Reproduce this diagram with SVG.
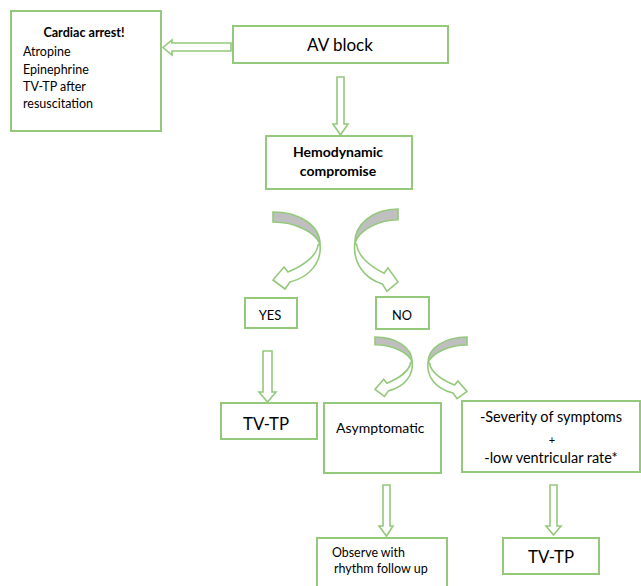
<svg xmlns="http://www.w3.org/2000/svg" width="641" height="586" viewBox="0 0 641 586">
<defs>
<style>
.box{fill:#fff;stroke:#94c97c;stroke-width:2}
.arr{fill:#fff;stroke:#94c97c;stroke-width:1.6;stroke-linejoin:miter}
.back{fill:#bfbfbf;stroke:#94c97c;stroke-width:1.6;vector-effect:non-scaling-stroke}
.front{fill:#fff;stroke:#94c97c;stroke-width:1.6;vector-effect:non-scaling-stroke}
text{font-family:Lato,"Open Sans","Liberation Sans",sans-serif;fill:#000}
.b{font-weight:bold}
.m{text-anchor:middle}
</style>
<g id="curved">
<path class="back" d="M0,0 C27,0 47,14 47,32 C42,20 22,10 0,10 Z"/>
<path class="front" d="M47,32 C49,50 37,65 17,70 L12,77 L0,68 L11,55 L15,60 C32,53 44,43 45,33 Z"/>
</g>
</defs>
<rect width="641" height="586" fill="#fff"/>
<g id="connectors">
<polygon class="arr" points="231,43 172,43 172,40 163,47.5 172,55 172,51 231,51"/>
<polygon class="arr" points="337,77 344,77 344,124 348,124 340.5,135 333,124 337,124"/>
<polygon class="arr" points="263,351 272,351 272,392 276,392 267.5,402 259,392 263,392"/>
<polygon class="arr" points="383,485 390,485 390,526 393,526 386.5,536 379,526 383,526"/>
<polygon class="arr" points="550,485 557,485 557,526 561,526 553.5,535 546,526 550,526"/>
<use href="#curved" transform="translate(273,212)"/>
<use href="#curved" transform="translate(398,209) scale(-0.92,1.07)"/>
<use href="#curved" transform="translate(375,337) scale(0.79,0.77)"/>
<use href="#curved" transform="translate(467,337) scale(-0.83,0.8)"/>
</g>
<g id="cardiac">
<rect class="box" x="11" y="11" width="150" height="120"/>
<text class="b m" x="84" y="37" font-size="12.6">Cardiac arrest!</text>
<text x="23" y="56" font-size="12.5">Atropine</text>
<text x="23" y="74" font-size="12.5">Epinephrine</text>
<text x="23" y="91" font-size="12.5">TV-TP after</text>
<text x="23" y="108" font-size="12.5">resuscitation</text>
</g>
<g id="avblock">
<rect class="box" x="233" y="26" width="215" height="37"/>
<text class="m" x="340" y="51" font-size="17">AV block</text>
</g>
<g id="hemo">
<rect class="box" x="266" y="136" width="146" height="53"/>
<text class="b m" x="338" y="157" font-size="14">Hemodynamic</text>
<text class="b m" x="338" y="176" font-size="14">compromise</text>
</g>
<g id="yes">
<rect class="box" x="245" y="298" width="52" height="30"/>
<text class="m" x="270" y="320" font-size="13">YES</text>
</g>
<g id="no">
<rect class="box" x="376" y="297" width="53" height="32"/>
<text class="m" x="402" y="320" font-size="12.8">NO</text>
</g>
<g id="tvtp1">
<rect class="box" x="221" y="403" width="96" height="36"/>
<text class="m" x="266" y="430" font-size="16.8">TV-TP</text>
</g>
<g id="asym">
<rect class="box" x="324" y="403" width="117" height="70"/>
<text x="336" y="433" font-size="14">Asymptomatic</text>
</g>
<g id="severity">
<rect class="box" x="462" y="401" width="178" height="71"/>
<text class="m" x="551" y="422" font-size="14.5">-Severity of symptoms</text>
<text class="m" x="552" y="444" font-size="11">+</text>
<text class="m" x="551" y="463" font-size="14.5">-low ventricular rate*</text>
</g>
<g id="observe">
<rect class="box" x="317" y="538" width="130" height="60"/>
<text x="332" y="557" font-size="12.4">Observe with</text>
<text x="334" y="573" font-size="12.5">rhythm follow up</text>
</g>
<g id="tvtp2">
<rect class="box" x="503" y="538" width="96" height="36"/>
<text class="m" x="551" y="563" font-size="16.8">TV-TP</text>
</g>
</svg>
